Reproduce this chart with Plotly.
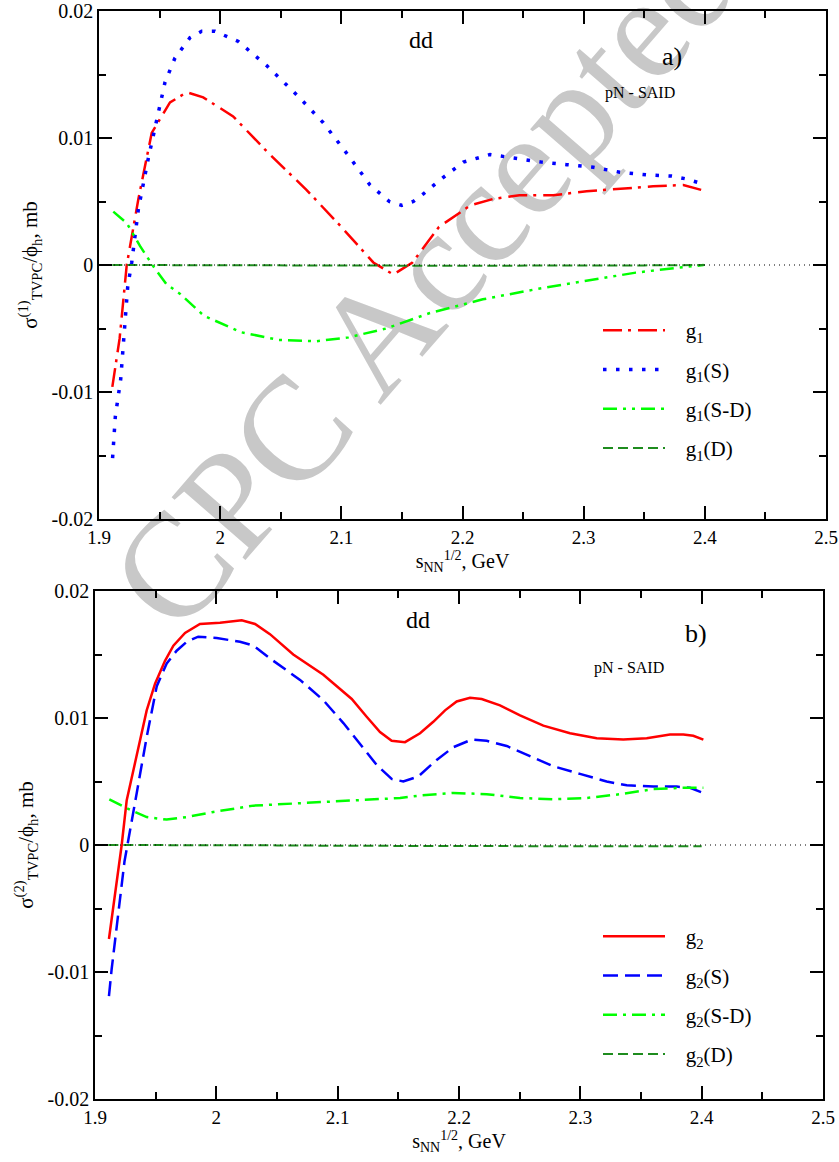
import plotly.graph_objects as go

# ---------------- data: panel a) ----------------
G1_X = [1.911, 1.917, 1.9229, 1.9325, 1.9435, 1.9586, 1.9724, 1.986, 2.0107, 2.041, 2.0714, 2.099,
        2.1264, 2.1429, 2.1587, 2.1806, 2.2066, 2.2254, 2.247, 2.2749, 2.3025, 2.33, 2.3573, 2.3822, 2.4015]
G1_Y = [-0.0096, -0.0058, 0.0, 0.0052, 0.0104, 0.0128, 0.0136, 0.0132, 0.0117, 0.0087, 0.0059, 0.0031,
        0.0002, -0.00075, 0.0002, 0.0030, 0.0047, 0.0052, 0.0055, 0.0055, 0.0058, 0.0060, 0.0062, 0.0063, 0.0058]

G1S_X = [1.9112, 1.9135, 1.9179, 1.9237, 1.927, 1.9325, 1.9407, 1.9476, 1.9545, 1.9627, 1.9751, 1.9847,
         1.9957, 2.015, 2.0384, 2.0632, 2.0851, 2.1044, 2.1237, 2.1396, 2.1498, 2.1594, 2.1677, 2.1842,
         2.2007, 2.2227, 2.2447, 2.2653, 2.286, 2.308, 2.33, 2.352, 2.3726, 2.3836, 2.3943]
G1S_Y = [-0.0152, -0.0119, -0.0090, -0.0017, 0.0002, 0.0044, 0.0084, 0.0115, 0.0144, 0.0163, 0.0179, 0.0184,
         0.0184, 0.0176, 0.0157, 0.0134, 0.0112, 0.0088, 0.0063, 0.0050, 0.0047, 0.0050, 0.0056, 0.0069,
         0.0081, 0.0087, 0.0084, 0.0081, 0.0079, 0.0077, 0.0073, 0.0071, 0.0070, 0.0068, 0.0065]

G1SD_X = [1.9118, 1.9229, 1.9338, 1.9448, 1.9556, 1.9672, 1.9866, 2.0175, 2.0485, 2.0795, 2.106, 2.137,
          2.1725, 2.2168, 2.261, 2.306, 2.343, 2.3795, 2.399]
G1SD_Y = [0.0042, 0.0033, 0.0015, -0.0001, -0.0015, -0.0023, -0.0040, -0.0053, -0.0059, -0.0060, -0.0057,
          -0.0050, -0.0038, -0.0027, -0.0019, -0.0012, -0.0006, -0.0002, 0.0]

G1D_X = [1.911, 1.95, 2.0, 2.05, 2.1, 2.15, 2.2, 2.25, 2.3, 2.35, 2.4]
G1D_Y = [0.0, 0.0, 0.0, -0.00003, -0.00005, -0.00005, -0.00006, -0.00006, -0.00005, -0.00003, 0.0]

# ---------------- data: panel b) ----------------
G2_X = [1.9115, 1.9192, 1.922, 1.9261, 1.9344, 1.9426, 1.9495, 1.9577, 1.9646, 1.9742, 1.9865, 2.003,
        2.0209, 2.0319, 2.0442, 2.0634, 2.0882, 2.1005, 2.1116, 2.1239, 2.1349, 2.1445, 2.1555, 2.1679,
        2.1788, 2.1885, 2.1981, 2.2091, 2.2187, 2.2338, 2.2503, 2.2695, 2.2915, 2.3135, 2.3354, 2.3547,
        2.3739, 2.3849, 2.3931, 2.4014]
G2_Y = [-0.0074, -0.0019, 0.0, 0.0035, 0.0070, 0.0106, 0.0127, 0.0145, 0.0157, 0.0167, 0.0174, 0.0175,
        0.0177, 0.0174, 0.0166, 0.0150, 0.0134, 0.0124, 0.0115, 0.0101, 0.0089, 0.0082, 0.0081, 0.0088,
        0.0097, 0.0106, 0.0113, 0.0116, 0.0115, 0.0110, 0.0102, 0.0094, 0.0088, 0.0084, 0.0083, 0.0084,
        0.0087, 0.0087, 0.0086, 0.0083]

G2S_X = [1.9115, 1.9137, 1.9243, 1.9275, 1.9344, 1.9426, 1.9509, 1.9591, 1.9673, 1.9756, 1.9851, 2.0003,
         2.0195, 2.0305, 2.047, 2.069, 2.0882, 2.1047, 2.1184, 2.1322, 2.1445, 2.1541, 2.1665, 2.1816,
         2.1953, 2.2105, 2.2228, 2.2393, 2.2585, 2.2777, 2.2997, 2.3217, 2.3382, 2.3602, 2.3794, 2.3904, 2.4014]
G2S_Y = [-0.0119, -0.0098, -0.0013, 0.0005, 0.0041, 0.0085, 0.0125, 0.0143, 0.0153, 0.0160, 0.0164, 0.0163,
         0.0160, 0.0157, 0.0145, 0.0130, 0.0114, 0.0096, 0.0080, 0.0063, 0.0052, 0.0050, 0.0054, 0.0067,
         0.0077, 0.0083, 0.0082, 0.0078, 0.0070, 0.0062, 0.0056, 0.0050, 0.0047, 0.0046, 0.0046, 0.0045, 0.0041]

G2SD_X = [1.9118, 1.9261, 1.9426, 1.9591, 1.9756, 1.9975, 2.0305, 2.069, 2.1102, 2.1514, 2.1679, 2.1953,
          2.2228, 2.2503, 2.2777, 2.3052, 2.3327, 2.3602, 2.3822, 2.4014]
G2SD_Y = [0.0036, 0.0029, 0.0022, 0.0020, 0.0022, 0.0026, 0.0031, 0.0033, 0.0035, 0.0037, 0.0039, 0.0041,
          0.0040, 0.0037, 0.0036, 0.0037, 0.0040, 0.0044, 0.0045, 0.0045]

G2D_X = [1.911, 1.95, 2.0, 2.05, 2.1, 2.15, 2.2, 2.25, 2.3, 2.35, 2.4]
G2D_Y = [0.0, 0.0, 0.0, -0.00003, -0.00006, -0.00008, -0.0001, -0.0001, -0.0001, -0.0001, -0.0001]

# ---------------- axes ticks ----------------
X_TICKS = [1.9, 2.0, 2.1, 2.2, 2.3, 2.4, 2.5]
X_TICK_TEXT = ["1.9", "2", "2.1", "2.2", "2.3", "2.4", "2.5"]
Y_TICKS = [-0.02, -0.01, 0.0, 0.01, 0.02]
Y_TICK_TEXT = ["-0.02", "-0.01", "0", "0.01", "0.02"]
X_RANGE = [1.9, 2.5]
Y_RANGE = [-0.02, 0.02]

SERIF = "Liberation Serif, Times New Roman, serif"
RED, BLUE, LGREEN, DGREEN = "#ff0000", "#0000ff", "#00ff00", "#1e8c1e"
PAD = "&nbsp;&nbsp;&nbsp;"

fig = go.Figure()

def add(x, y, name, color, dash, width, xa, ya, legend):
    fig.add_trace(go.Scatter(x=x, y=y, mode="lines", name=PAD + name, xaxis=xa, yaxis=ya,
                             legend=legend, legendgroup=name,
                             line=dict(color=color, dash=dash, width=width)))

add(G1_X, G1_Y, "g<sub>1</sub>", RED, "19px,6px,3px,7px", 2.5, "x", "y", "legend")
add(G1S_X, G1S_Y, "g<sub>1</sub>(S)", BLUE, "3.5px,9.5px", 3.5, "x", "y", "legend")
add(G1SD_X, G1SD_Y, "g<sub>1</sub>(S-D)", LGREEN, "14px,6px,3px,6px,3px,6px", 2.5, "x", "y", "legend")
add(G1D_X, G1D_Y, "g<sub>1</sub>(D)", DGREEN, "10px,5px", 2, "x", "y", "legend")

add(G2_X, G2_Y, "g<sub>2</sub>", RED, "solid", 2.5, "x2", "y2", "legend2")
add(G2S_X, G2S_Y, "g<sub>2</sub>(S)", BLUE, "15px,7px", 2.5, "x2", "y2", "legend2")
add(G2SD_X, G2SD_Y, "g<sub>2</sub>(S-D)", LGREEN, "14px,6px,3px,6px", 2.5, "x2", "y2", "legend2")
add(G2D_X, G2D_Y, "g<sub>2</sub>(D)", DGREEN, "10px,5px", 2, "x2", "y2", "legend2")

def xax(domain, anchor):
    return dict(domain=domain, anchor=anchor, range=X_RANGE, tickmode="array",
                tickvals=X_TICKS, ticktext=X_TICK_TEXT,
                showline=True, linecolor="black", linewidth=1.5, mirror="ticks",
                ticks="inside", ticklen=13, tickwidth=1.5, tickcolor="black",
                minor=dict(ticks="inside", ticklen=7, tickwidth=1.5, tickcolor="black",
                           tickmode="linear", tick0=1.9, dtick=0.05),
                showgrid=False, zeroline=False, automargin=False,
                tickfont=dict(family=SERIF, size=19, color="black"),
                title=dict(text="s<sub>NN</sub><sup>1/2</sup>, GeV", standoff=4,
                           font=dict(family=SERIF, size=20, color="black")))

def yax(domain, anchor, title):
    return dict(domain=domain, anchor=anchor, range=Y_RANGE, tickmode="array",
                tickvals=Y_TICKS, ticktext=Y_TICK_TEXT,
                showline=True, linecolor="black", linewidth=1.5, mirror="ticks",
                ticks="inside", ticklen=13, tickwidth=1.5, tickcolor="black",
                minor=dict(ticks="inside", ticklen=7, tickwidth=1.5, tickcolor="black",
                           tickmode="linear", tick0=-0.02, dtick=0.005),
                showgrid=False, zeroline=False, automargin=False,
                tickfont=dict(family=SERIF, size=20, color="black"),
                title=dict(text=title, standoff=8,
                           font=dict(family=SERIF, size=21, color="black")))

W, H = 839, 1162
def px(x): return x / W
def py(y): return 1 - y / H

shapes = [
    # zero reference lines (dotted)
    dict(type="line", xref="x domain", yref="y", x0=0, x1=1, y0=0, y1=0,
         line=dict(color="black", width=1.2, dash="1px,4px")),
    dict(type="line", xref="x2 domain", yref="y2", x0=0, x1=1, y0=0, y1=0,
         line=dict(color="black", width=1.2, dash="1px,4px")),
    # watermark
    dict(type="line", xref="paper", yref="paper", layer="below",
         x0=px(402), x1=px(422), y0=py(268), y1=py(268),
         line=dict(color="rgba(0,0,0,0)", width=0),
         label=dict(text="CPC Accepted", textangle=-49, textposition="middle",
                    xanchor="center", yanchor="middle", padding=0,
                    font=dict(family=SERIF, size=148, color="#c8c8c8"))),
]

def ann(text, x, y, size):
    return dict(text=text, x=px(x), y=py(y), xref="paper", yref="paper", showarrow=False,
                xanchor="center", yanchor="middle",
                font=dict(family=SERIF, size=size, color="black"))

annotations = [
    ann("dd", 421, 40, 24), ann("a)", 672, 56, 26), ann("pN - SAID", 640, 93, 16),
    ann("dd", 418, 620, 24), ann("b)", 696, 633, 26), ann("pN - SAID", 629, 668, 16),
]

legend_common = dict(bgcolor="rgba(0,0,0,0)", borderwidth=0,
                     font=dict(family=SERIF, size=21, color="black"),
                     itemwidth=62, tracegroupgap=9, traceorder="grouped",
                     xanchor="left", yanchor="top")

fig.update_layout(
    width=W, height=H,
    margin=dict(l=0, r=0, t=0, b=0),
    paper_bgcolor="white", plot_bgcolor="rgba(0,0,0,0)",
    xaxis=xax([px(99), px(826)], "y"),
    yaxis=yax([py(519), py(11)], "x", "σ<sup>(1)</sup><sub>TVPC</sub>/ϕ<sub>h</sub>, mb"),
    xaxis2=xax([px(95), px(823)], "y2"),
    yaxis2=yax([py(1099), py(591)], "x2", "σ<sup>(2)</sup><sub>TVPC</sub>/ϕ<sub>h</sub>, mb"),
    legend=dict(x=px(598), y=py(310), **legend_common),
    legend2=dict(x=px(598), y=py(916), **legend_common),
    shapes=shapes, annotations=annotations,
    showlegend=True,
)

fig.write_html("out.html", config={"displayModeBar": False},
               post_script="document.body.style.margin='0px';document.documentElement.style.margin='0px';")
